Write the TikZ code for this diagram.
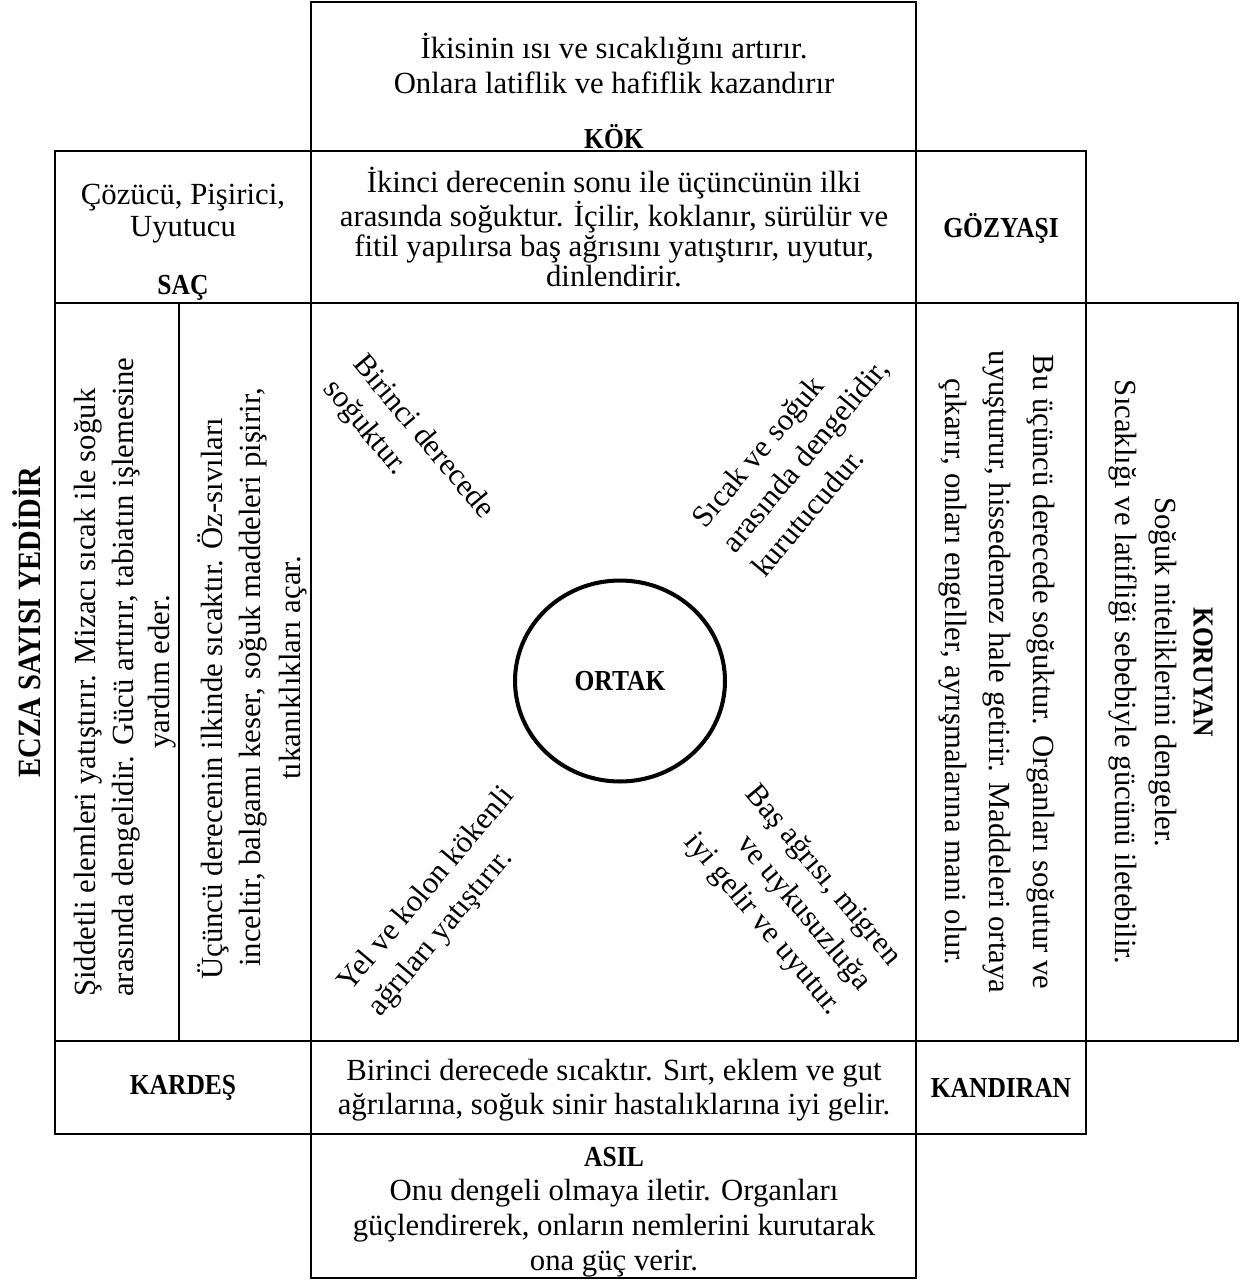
\documentclass[tikz,border=0pt]{standalone}
\usepackage{fontspec}
\setmainfont{Liberation Serif}
\newfontfamily\lblfont[FakeStretch=0.88]{Liberation Serif}
\usetikzlibrary{shapes.geometric}
\tikzset{
  cell/.style={line width=1.3pt},
  txt/.style={inner sep=0pt, font=\fontsize{17.5}{20}\selectfont},
  lbl/.style={inner sep=0pt, font=\fontsize{16.5}{19}\lblfont\bfseries},
  diag/.style={inner sep=0pt, font=\fontsize{17.5}{22}\selectfont},
}
\newcommand{\colline}[5]{\node[txt, rotate=#2, anchor=#3] (#1) at (#4) {#5};}

\begin{document}
\begin{tikzpicture}[x=0.02cm, y=-0.02cm]
\useasboundingbox (0,0) rectangle (1244,1280);
%cells
\draw[cell] (311,2) rectangle (916,151);
\draw[cell] (55,151) rectangle (311,303);
\draw[cell] (311,151) rectangle (916,303);
\draw[cell] (916,151) rectangle (1086,303);

\draw[cell] (55,303) rectangle (179,1041);
\draw[cell] (179,303) rectangle (311,1041);
\draw[cell] (311,303) rectangle (916,1041);
\draw[cell] (916,303) rectangle (1086,1041);
\draw[cell] (1086,303) rectangle (1238,1041);

\draw[cell] (55,1041) rectangle (311,1134);
\draw[cell] (311,1041) rectangle (916,1134);
\draw[cell] (916,1041) rectangle (1086,1134);
\draw[cell] (311,1134) rectangle (916,1278);

%top row
\node[txt, align=center, font=\fontsize{17.5}{19.9}\selectfont] (kokText) at (614,63)
  {İkisinin ısı ve sıcaklığını artırır.\\Onlara latiflik ve hafiflik kazandırır};
\node[lbl] (kok) at (614,137) {KÖK};

%second row
\node[txt, align=center, font=\fontsize{17.5}{18.2}\selectfont] (sacText) at (183,214)
  {Çözücü, Pişirici,\\Uyutucu};
\node[lbl] (sac) at (183,288) {SAÇ};
\node[txt, align=center, font=\fontsize{17.5}{15.6}\selectfont] (ikinci) at (614,227)
  {İkinci derecenin sonu ile üçüncünün ilki\\arasında soğuktur. İçilir, koklanır, sürülür ve\\fitil yapılırsa baş ağrısını yatıştırır, uyutur,\\dinlendirir.};
\node[lbl] (gozyasi) at (1001,228) {GÖZYAŞI};

%left side
\node[inner sep=0pt, rotate=90, font=\fontsize{18.5}{21}\lblfont\bfseries] (ecza) at (27,622) {ECZA SAYISI YEDİDİR};
\colline{siddetA}{90}{west}{88,997}{Şiddetli elemleri yatıştırır. Mizacı sıcak ile soğuk}
\colline{siddetB}{90}{west}{126,997}{arasında dengelidir. Gücü artırır, tabiatın işlemesine}
\colline{siddetC}{90}{center}{162,672}{yardım eder.}
\colline{ucuncuA}{90}{west}{213,980}{Üçüncü derecenin ilkinde sıcaktır. Öz-sıvıları}
\colline{ucuncuB}{90}{west}{253,967}{inceltir, balgamı keser, soğuk maddeleri pişirir,}
\colline{ucuncuC}{90}{center}{293,668}{tıkanıklıkları açar.}

%center
\node[draw, ellipse, line width=2.3pt, minimum width=4.2cm, minimum height=4.02cm, inner sep=0pt,
  font=\fontsize{16.5}{19}\lblfont\bfseries] (ortak) at (620,681) {ORTAK};
\node[diag, rotate=-50, align=left] (birinci) at (408,450) {Birinci derecede\\soğuktur.};
\node[diag, rotate=50, align=left] (sicak) at (805,455) {Sıcak ve soğuk\\arasında dengelidir,\\kurutucudur.};
\node[diag, rotate=50, align=left] (yel) at (442,902) {Yel ve kolon kökenli\\ağrıları yatıştırır.};
\node[diag, rotate=-50, align=right] (bas) at (792,900) {Baş ağrısı, migren\\ve uykusuzluğa\\iyi gelir ve uyutur.};

%right side
\node[txt, rotate=-90, align=center, font=\fontsize{17.5}{25}\selectfont] (buUcuncu) at (997,672)
  {Bu üçüncü derecede soğuktur. Organları soğutur ve\\uyuşturur, hissedemez hale getirir. Maddeleri ortaya\\çıkarır, onları engeller, ayrışmalarına mani olur.};
\node[lbl, rotate=-90] (koruyan) at (1203,672) {KORUYAN};
\node[txt, rotate=-90, align=center, font=\fontsize{17.5}{22.8}\selectfont] (koruyanText) at (1143,672)
  {Soğuk niteliklerini dengeler.\\Sıcaklığı ve latifliği sebebiyle gücünü iletebilir.};

%bottom rows
\node[lbl] (kardes) at (183,1088) {KARDEŞ};
\node[txt, align=center, font=\fontsize{17.5}{19.3}\selectfont] (birinciSicak) at (614,1090)
  {Birinci derecede sıcaktır. Sırt, eklem ve gut\\ağrılarına, soğuk sinir hastalıklarına iyi gelir.};
\node[lbl] (kandiran) at (1001,1088) {KANDIRAN};
\node[lbl] (asil) at (614,1157) {ASIL};
\node[txt, align=center, font=\fontsize{17.5}{19.9}\selectfont] (asilText) at (614,1228)
  {Onu dengeli olmaya iletir. Organları\\güçlendirerek, onların nemlerini kurutarak\\ona güç verir.};
\end{tikzpicture}
\end{document}
